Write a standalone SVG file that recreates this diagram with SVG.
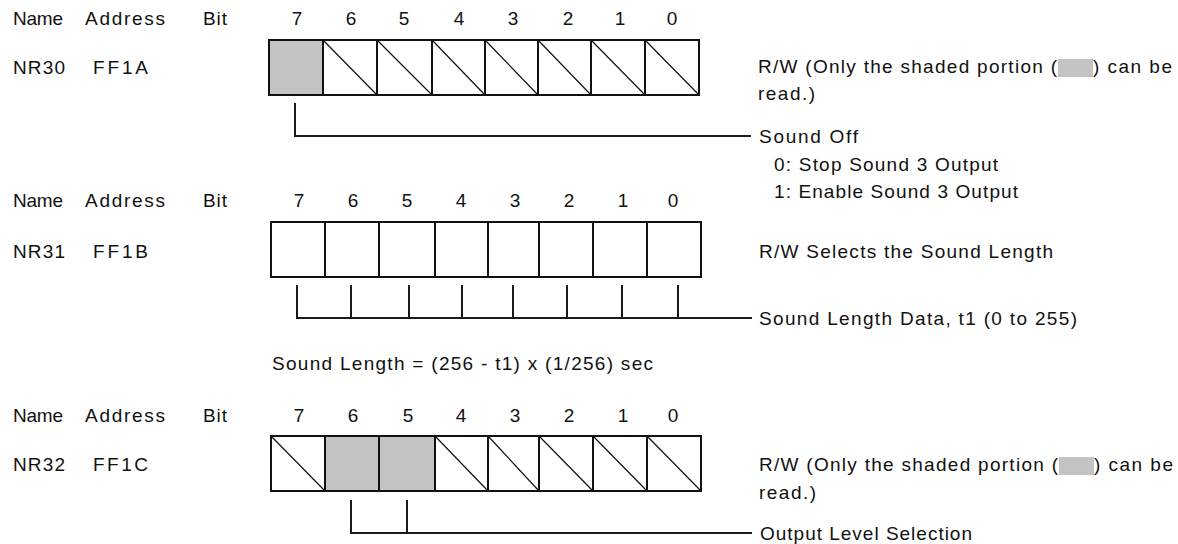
<svg xmlns="http://www.w3.org/2000/svg" width="1178" height="544" viewBox="0 0 1178 544">
<style>
text{font-family:"Liberation Sans",Arial,sans-serif;font-size:19px;fill:#111}
.d{text-anchor:middle}
.cell{fill:#fff;stroke:#111;stroke-width:2}
.sh{fill:#c3c3c3;stroke:#111;stroke-width:2}
.diag{stroke:#111;stroke-width:1.2}
.con{fill:none;stroke:#1a1a1a;stroke-width:2}
.chip{fill:#c3c3c3}
</style>
<rect width="1178" height="544" fill="#fff"/>

<g id="nr30">
<text x="13" y="25" textLength="50">Name</text>
<text x="85" y="25" textLength="80">Address</text>
<text x="203" y="25" textLength="24">Bit</text>
<text class="d" x="297" y="25">7</text><text class="d" x="351" y="25">6</text><text class="d" x="404" y="25">5</text><text class="d" x="459" y="25">4</text><text class="d" x="513" y="25">3</text><text class="d" x="568" y="25">2</text><text class="d" x="620" y="25">1</text><text class="d" x="672" y="25">0</text>
<text x="13" y="74" textLength="52">NR30</text>
<text x="93" y="74" textLength="55">FF1A</text>
<rect class="sh" x="269" y="40" width="54" height="55"/>
<rect class="cell" x="323" y="40" width="54" height="55"/>
<rect class="cell" x="377" y="40" width="55" height="55"/>
<rect class="cell" x="432" y="40" width="53" height="55"/>
<rect class="cell" x="485" y="40" width="53" height="55"/>
<rect class="cell" x="538" y="40" width="53" height="55"/>
<rect class="cell" x="591" y="40" width="54" height="55"/>
<rect class="cell" x="645" y="40" width="54" height="55"/>
<path class="diag" d="M323 40L377 95M377 40L432 95M432 40L485 95M485 40L538 95M538 40L591 95M591 40L645 95M645 40L699 95"/>
</g>

<g id="nr30-desc">
<text x="758" y="73" textLength="299">R/W (Only the shaded portion (</text>
<rect class="chip" x="1058" y="59" width="35" height="18"/>
<text x="1093" y="73" textLength="79">) can be</text>
<text x="758" y="100" textLength="57">read.)</text>
</g>

<g id="sound-off">
<text x="759" y="143" textLength="99">Sound Off</text>
<text x="774" y="171" textLength="224">0: Stop Sound 3 Output</text>
<text x="774" y="198" textLength="244">1: Enable Sound 3 Output</text>
</g>

<g id="nr31">
<text x="13" y="207" textLength="50">Name</text>
<text x="85" y="207" textLength="80">Address</text>
<text x="203" y="207" textLength="24">Bit</text>
<text class="d" x="299" y="207">7</text><text class="d" x="353" y="207">6</text><text class="d" x="407" y="207">5</text><text class="d" x="461" y="207">4</text><text class="d" x="515" y="207">3</text><text class="d" x="569" y="207">2</text><text class="d" x="623" y="207">1</text><text class="d" x="673" y="207">0</text>
<text x="13" y="258" textLength="52">NR31</text>
<text x="93" y="258" textLength="55">FF1B</text>
<rect class="cell" x="271" y="222" width="54" height="55"/>
<rect class="cell" x="325" y="222" width="54" height="55"/>
<rect class="cell" x="379" y="222" width="56" height="55"/>
<rect class="cell" x="435" y="222" width="53" height="55"/>
<rect class="cell" x="488" y="222" width="51" height="55"/>
<rect class="cell" x="539" y="222" width="54" height="55"/>
<rect class="cell" x="593" y="222" width="54" height="55"/>
<rect class="cell" x="647" y="222" width="54" height="55"/>
<text x="759" y="258" textLength="294">R/W Selects the Sound Length</text>
</g>

<g id="sound-length-data">
<text x="759" y="325" textLength="318">Sound Length Data, t1 (0 to 255)</text>
</g>

<g id="formula">
<text x="272" y="370" textLength="381">Sound Length = (256 - t1) x (1/256) sec</text>
</g>

<g id="nr32">
<text x="13" y="422" textLength="50">Name</text>
<text x="85" y="422" textLength="80">Address</text>
<text x="203" y="422" textLength="24">Bit</text>
<text class="d" x="299" y="422">7</text><text class="d" x="353" y="422">6</text><text class="d" x="408" y="422">5</text><text class="d" x="461" y="422">4</text><text class="d" x="515" y="422">3</text><text class="d" x="569" y="422">2</text><text class="d" x="623" y="422">1</text><text class="d" x="673" y="422">0</text>
<text x="13" y="471" textLength="52">NR32</text>
<text x="93" y="471" textLength="55">FF1C</text>
<rect class="cell" x="271" y="436" width="54" height="55"/>
<rect class="sh" x="325" y="436" width="54" height="55"/>
<rect class="sh" x="379" y="436" width="56" height="55"/>
<rect class="cell" x="435" y="436" width="53" height="55"/>
<rect class="cell" x="488" y="436" width="51" height="55"/>
<rect class="cell" x="539" y="436" width="54" height="55"/>
<rect class="cell" x="593" y="436" width="54" height="55"/>
<rect class="cell" x="647" y="436" width="54" height="55"/>
<path class="diag" d="M271 436L325 491M435 436L488 491M488 436L539 491M539 436L593 491M593 436L647 491M647 436L701 491"/>
</g>

<g id="nr32-desc">
<text x="759" y="471" textLength="299">R/W (Only the shaded portion (</text>
<rect class="chip" x="1059" y="457" width="35" height="18"/>
<text x="1094" y="471" textLength="79">) can be</text>
<text x="759" y="499" textLength="57">read.)</text>
<text x="760" y="540" textLength="212">Output Level Selection</text>
</g>

<g id="connectors">
<path class="con" d="M295 103V136H751"/>
<path class="con" d="M297 285V318H752M351 285V318M409 285V318M462 285V318M513 285V318M567 285V318M622 285V318M678 285V318"/>
<path class="con" d="M351 500V533H752M407 500V533"/>
</g>
</svg>
